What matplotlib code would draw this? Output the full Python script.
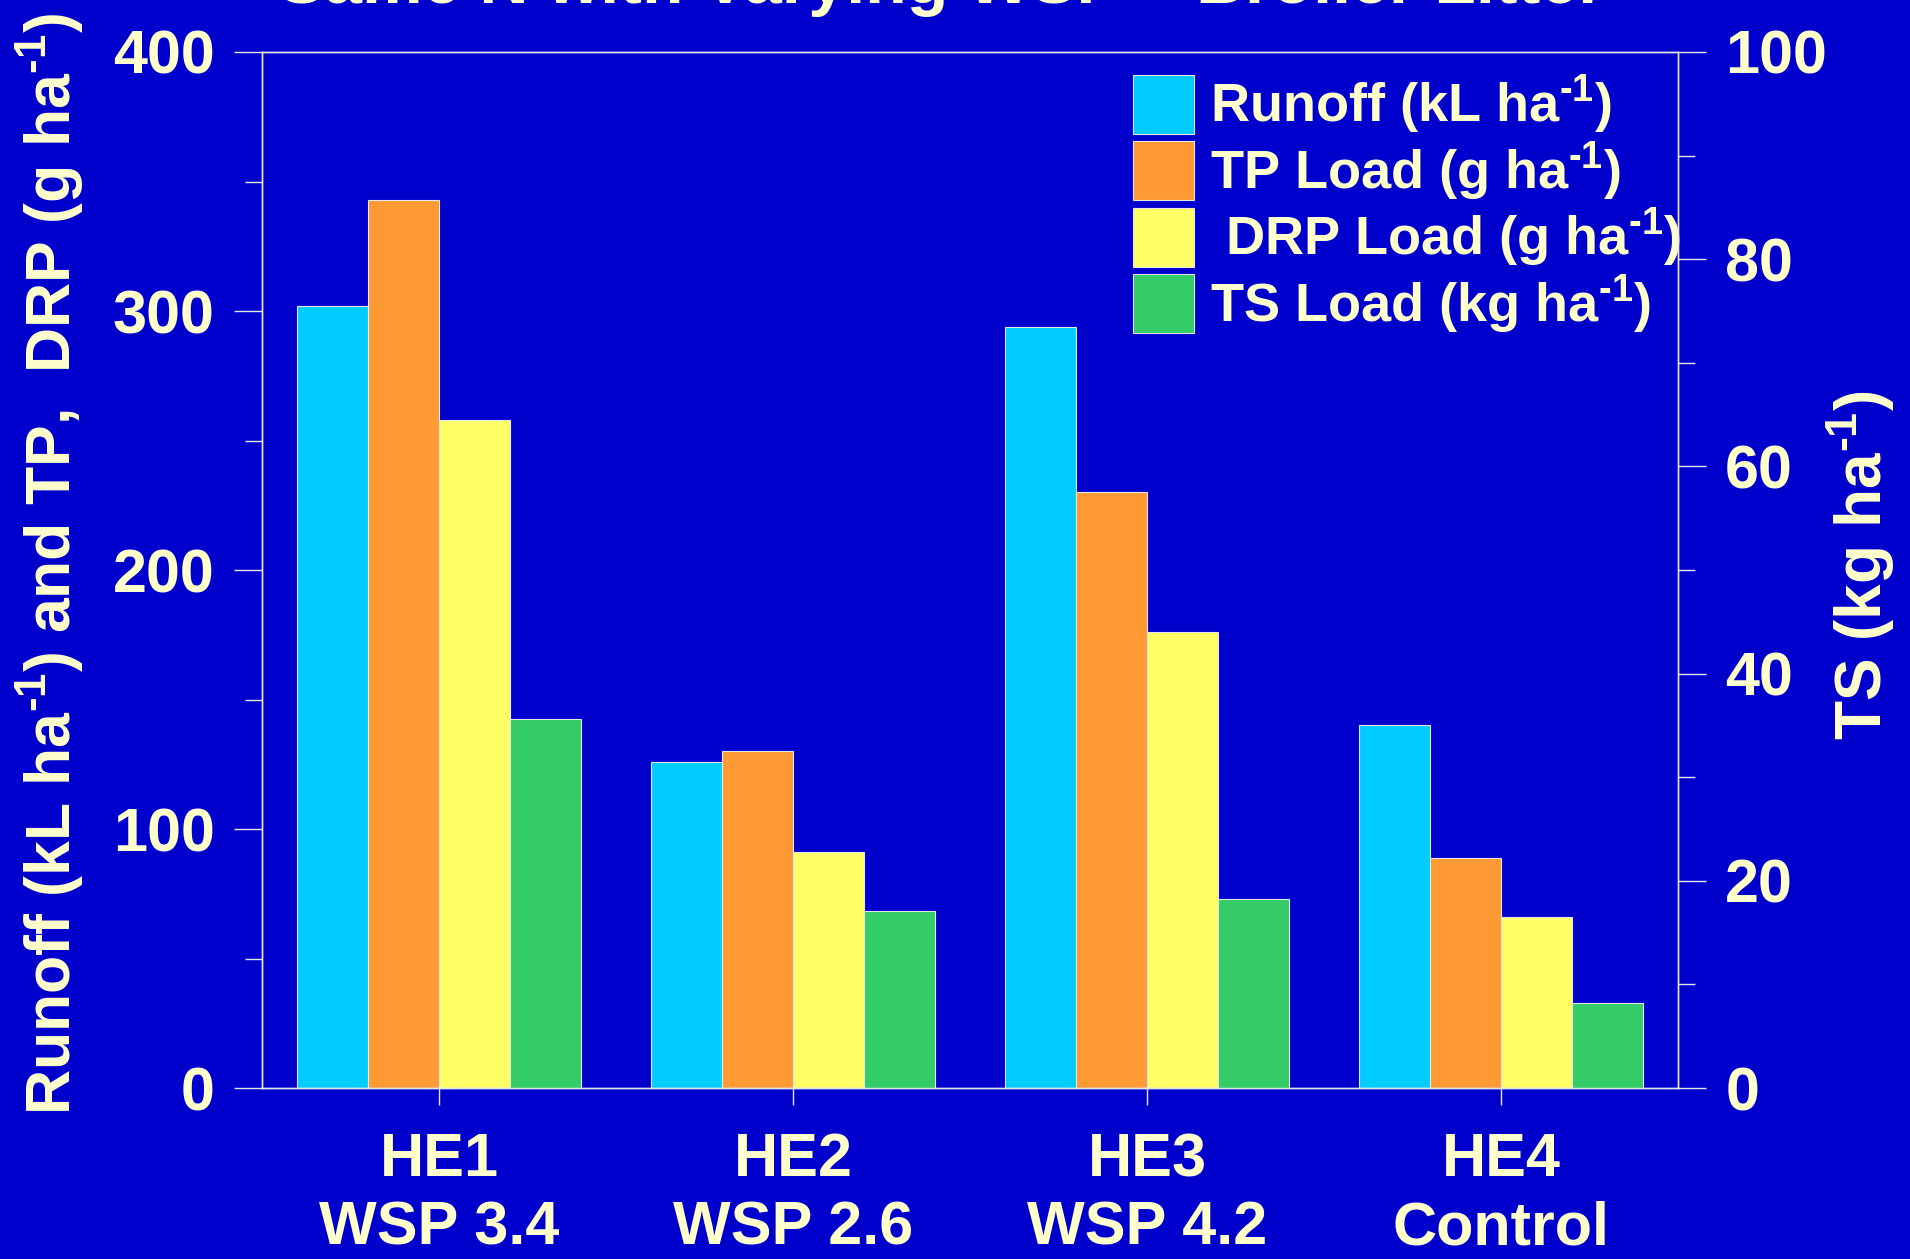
import matplotlib
matplotlib.use("Agg")
import matplotlib.pyplot as plt
from matplotlib.ticker import MultipleLocator
import numpy as np

# Data
sites = ["HE1\nWSP 3.4", "HE2\nWSP 2.6", "HE3\nWSP 4.2", "HE4\nControl"]
runoff = [302, 126, 294, 140]        # kL/ha
tp_load = [343, 130, 230, 89]        # g/ha
drp_load = [258, 91, 176, 66]        # g/ha
ts_load = [35.6, 17.1, 18.2, 8.2]    # kg/ha (right axis)

SUP = r"$^{\text{-1}}$"
labels = [f"Runoff (kL ha{SUP})", f"TP Load (g ha{SUP})",
          f" DRP Load (g ha{SUP})", f"TS Load (kg ha{SUP})"]
colors = ["#00CCFF", "#FF9933", "#FFFF66", "#33CC66"]

BG = "#0000CC"
FG = "#FFFFCC"
LINE = "#E6E6E6"

plt.rcParams["font.family"] = ["Liberation Sans", "DejaVu Sans"]
plt.rcParams["font.weight"] = "bold"
plt.rcParams["mathtext.fontset"] = "custom"
plt.rcParams["mathtext.bf"] = "Liberation Sans:bold"
plt.rcParams["mathtext.rm"] = "Liberation Sans:bold"
plt.rcParams["mathtext.default"] = "bf"

fig = plt.figure(figsize=(19.10, 12.59), dpi=100, facecolor=BG)
ax = fig.add_axes([0.1372, 0.1358, 0.7413, 0.8229])
ax.set_facecolor(BG)
ax2 = ax.twinx()

x = np.arange(len(sites))
w = 0.2
handles = []
for i, (vals, col) in enumerate(zip([runoff, tp_load, drp_load], colors[:3])):
    h = ax.bar(x + (i - 1.5) * w, vals, w, color=col, edgecolor=LINE, linewidth=0.8)
    handles.append(h)
h = ax2.bar(x + 1.5 * w, ts_load, w, color=colors[3], edgecolor=LINE, linewidth=0.8)
handles.append(h)

ax.set_xlim(-0.5, 3.5)
ax.set_ylim(0, 400)
ax2.set_ylim(0, 100)

ax.yaxis.set_major_locator(MultipleLocator(100))
ax.yaxis.set_minor_locator(MultipleLocator(50))
ax2.yaxis.set_major_locator(MultipleLocator(20))
ax2.yaxis.set_minor_locator(MultipleLocator(10))

ax.set_xticks(x)
ax.set_xticklabels(sites, linespacing=1.25)

tick_font = 44
for a in (ax, ax2):
    a.tick_params(axis="y", which="major", direction="out", length=20, width=1,
                  color=LINE, labelcolor=FG, labelsize=tick_font, pad=14)
    a.tick_params(axis="y", which="minor", direction="out", length=12, width=1,
                  color=LINE)
    for s in a.spines.values():
        s.set_color(LINE)
        s.set_linewidth(1)
ax.tick_params(axis="x", direction="out", length=12, width=1, color=LINE,
               labelcolor=FG, labelsize=tick_font, pad=20)

ax.set_ylabel(f"Runoff (kL ha{SUP}) and TP,  DRP (g ha{SUP})",
              color=FG, fontsize=45, fontweight="bold")
ax.yaxis.set_label_coords(-0.124, 0.506)
ax2.set_ylabel(f"TS (kg ha{SUP})", color=FG, fontsize=46, fontweight="bold")
ax2.yaxis.set_label_coords(1.1035, 0.505)

leg = ax.legend(handles, labels, loc="upper left", bbox_to_anchor=(0.6, 1.0),
                frameon=False, fontsize=39, handlelength=1.12, handleheight=1.3,
                handletextpad=0.3, labelspacing=0.07, borderaxespad=0)
for t in leg.get_texts():
    t.set_color(FG)

fig.text(0.493, 1 - 3 / 1259, "Same N with Varying WSP \u2013 Broiler Litter",
         ha="center", va="baseline", color=FG, fontsize=49, fontweight="bold")

fig.savefig("out.png", dpi=100, facecolor=BG)
